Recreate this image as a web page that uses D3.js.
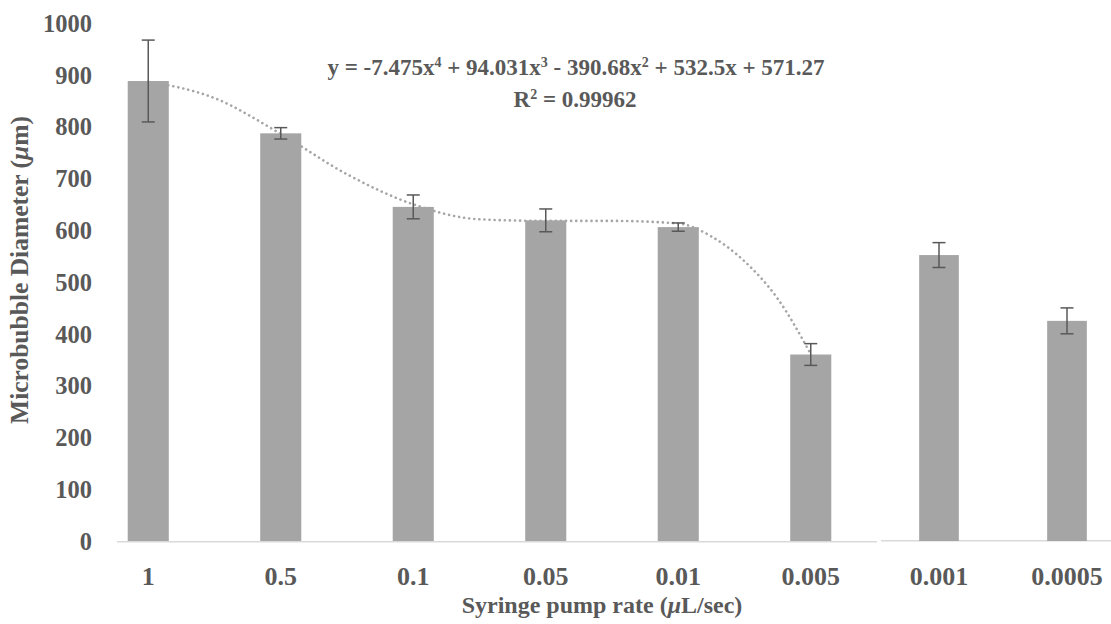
<!DOCTYPE html>
<html>
<head>
<meta charset="utf-8">
<script src="https://cdn.jsdelivr.net/npm/d3@7/dist/d3.min.js"></script>
<style>
  html, body { margin: 0; padding: 0; background: #fff; }
  svg { display: block; }
  text { font-family: "Liberation Serif", "Times New Roman", serif; font-weight: bold; fill: #595959; }
</style>
</head>
<body>
<svg id="chart" width="1111" height="624"></svg>
<script>
// Syringe pump rates (µL/sec), split into the fitted group and the two slowest rates
const ratesLeft = ["1", "0.5", "0.1", "0.05", "0.01", "0.005"];
const ratesRight = ["0.001", "0.0005"];

// Mean microbubble diameter (µm) and standard deviation for each rate
const diameterLeft = [888, 787, 645, 619, 606, 360];
const errorLeft = [79, 11, 23, 22, 8, 21];
const diameterRight = [552, 425];
const errorRight = [24, 25];

// Polynomial trend through the first six rates (position 1..6 -> diameter)
const trendPos = [1, 1.5, 2, 2.5, 3, 3.5, 4, 4.5, 5, 5.25, 5.5, 5.75, 6];
const trendVal = [887, 855, 786, 708, 650, 621, 618, 618, 613, 588, 540, 468, 361];

const yTicks = [0, 100, 200, 300, 400, 500, 600, 700, 800, 900, 1000];
const trendEquation = ["y = -7.475x", "4", " + 94.031x", "3", " - 390.68x", "2", " + 532.5x + 571.27"];

const svg = d3.select("#chart");

const y = d3.scaleLinear().domain([0, 1000]).range([541, 23]);

const xLeft = d3.scaleBand().domain(ratesLeft).range([82, 877])
  .paddingInner(0.69).paddingOuter(0.345);
const xRight = d3.scaleBand().domain(ratesRight).range([875, 1131])
  .paddingInner(0.69).paddingOuter(0.345);

// y axis tick labels (no line, no tick marks)
const yAxis = d3.axisLeft(y).tickValues(yTicks).tickFormat(d3.format("d")).tickSize(0).tickPadding(0);
const gy = svg.append("g").attr("transform", "translate(92,0)").call(yAxis);
gy.select(".domain").remove();
gy.attr("font-family", null).attr("font-size", null);
gy.selectAll("text").style("font-size", "24.5px").attr("fill", "#595959").attr("dy", "0.34em");

// baseline segments
svg.append("line").attr("x1", 117).attr("x2", 877).attr("y1", y(0) + 0.7).attr("y2", y(0) + 0.7)
  .attr("stroke", "#d9d9d9").attr("stroke-width", 1.6);
svg.append("line").attr("x1", 881).attr("x2", 1111).attr("y1", y(0) - 0.3).attr("y2", y(0) - 0.3)
  .attr("stroke", "#d9d9d9").attr("stroke-width", 1.6);

function drawGroup(scale, cats, vals, errs) {
  const data = cats.map((c, i) => ({ c, v: vals[i], e: errs[i] }));
  const g = svg.append("g");
  g.selectAll("rect").data(data).join("rect")
    .attr("x", d => scale(d.c))
    .attr("width", scale.bandwidth())
    .attr("y", d => y(d.v))
    .attr("height", d => y(0) - y(d.v))
    .attr("fill", "#a5a5a5");
  return { g, data };
}

function drawErrors(scale, data) {
  const cap = 6.5;
  const g = svg.append("g").attr("stroke", "#595959").attr("stroke-width", 1.5).attr("fill", "none");
  data.forEach(d => {
    const cx = scale(d.c) + scale.bandwidth() / 2;
    g.append("line").attr("x1", cx).attr("x2", cx).attr("y1", y(d.v + d.e)).attr("y2", y(d.v - d.e));
    g.append("line").attr("x1", cx - cap).attr("x2", cx + cap).attr("y1", y(d.v + d.e)).attr("y2", y(d.v + d.e));
    g.append("line").attr("x1", cx - cap).attr("x2", cx + cap).attr("y1", y(d.v - d.e)).attr("y2", y(d.v - d.e));
  });
}

const left = drawGroup(xLeft, ratesLeft, diameterLeft, errorLeft);
const right = drawGroup(xRight, ratesRight, diameterRight, errorRight);

// dotted polynomial trendline
const xPos = d3.scaleLinear().domain([1, 6])
  .range([xLeft(ratesLeft[0]) + xLeft.bandwidth() / 2, xLeft(ratesLeft[5]) + xLeft.bandwidth() / 2]);
const trendLine = d3.line().x(d => xPos(d[0])).y(d => y(d[1])).curve(d3.curveMonotoneX);
svg.append("path")
  .attr("d", trendLine(trendPos.map((p, i) => [p, trendVal[i]])))
  .attr("fill", "none").attr("stroke", "#a6a6a6").attr("stroke-width", 2.6)
  .attr("stroke-linecap", "round").attr("stroke-dasharray", "0.1,5");

drawErrors(xLeft, left.data);
drawErrors(xRight, right.data);

// x tick labels
function xLabels(scale, cats) {
  svg.append("g").selectAll("text").data(cats).join("text")
    .attr("x", d => scale(d) + scale.bandwidth() / 2)
    .attr("y", 585)
    .attr("text-anchor", "middle")
    .style("font-size", "26px")
    .text(d => d);
}
xLabels(xLeft, ratesLeft);
xLabels(xRight, ratesRight);

// axis titles (µ set in italic)
const xt = svg.append("text").attr("x", 602).attr("y", 613).attr("text-anchor", "middle")
  .style("font-size", "24px");
xt.append("tspan").text("Syringe pump rate (");
xt.append("tspan").style("font-style", "italic").text("\u03bc");
xt.append("tspan").text("L/sec)");

const yt = svg.append("text").attr("transform", "translate(28,270) rotate(-90)").attr("text-anchor", "middle")
  .style("font-size", "25.5px");
yt.append("tspan").text("Microbubble Diameter (");
yt.append("tspan").style("font-style", "italic").text("\u03bc");
yt.append("tspan").text("m)");

// trendline equation and R²
const eq = svg.append("text").attr("x", 576).attr("y", 75).attr("text-anchor", "middle").style("font-size", "23px");
trendEquation.forEach((s, i) => {
  if (i % 2 === 1) eq.append("tspan").attr("dy", -8).style("font-size", "14px").text(s);
  else eq.append("tspan").attr("dy", i === 0 ? 0 : 8).text(s);
});
const r2 = svg.append("text").attr("x", 575).attr("y", 107).attr("text-anchor", "middle").style("font-size", "23px");
r2.append("tspan").text("R");
r2.append("tspan").attr("dy", -8).style("font-size", "14px").text("2");
r2.append("tspan").attr("dy", 8).text(" = 0.99962");
</script>
</body>
</html>
